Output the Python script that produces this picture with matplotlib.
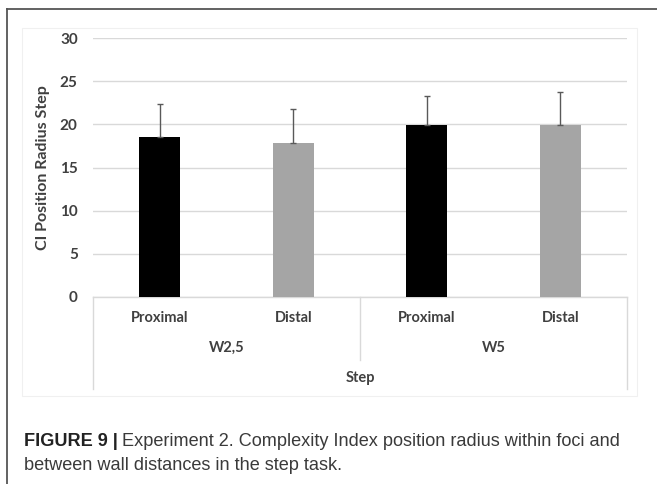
import numpy as np
import matplotlib
matplotlib.use("Agg")
import matplotlib.pyplot as plt
from matplotlib.lines import Line2D
from matplotlib.patches import Rectangle

# data
conditions = ["Proximal", "Distal", "Proximal", "Distal"]
walls = ["W2,5", "W5"]
task = "Step"
means = [18.5, 17.8, 19.9, 19.9]
errors = [3.85, 3.95, 3.4, 3.85]
bar_colors = ["#000000", "#a5a5a5", "#000000", "#a5a5a5"]
yticks = [0, 5, 10, 15, 20, 25, 30]

W, H = 657, 484
fig = plt.figure(figsize=(W / 100, H / 100), dpi=100)
fig.patch.set_facecolor("white")

label_font = "Lato"
txt_col = "#404040"
grid_col = "#d9d9d9"

def fx(px):
    return px / W

def fy(py):
    return 1 - py / H

# outer frame of the figure panel (top and left only, rest is cut off)
fig.add_artist(Line2D([fx(7), 1.0], [fy(9), fy(9)], color="#555555", lw=1.3))
fig.add_artist(Line2D([fx(7), fx(7)], [fy(9), 0.0], color="#555555", lw=1.3))

# faint chart-area border (Excel style)
fig.add_artist(Rectangle((fx(22), fy(396)), fx(637) - fx(22), fy(28) - fy(396),
                         fill=False, edgecolor="#f0f0f0", lw=0.8))

ax = fig.add_axes([fx(93), fy(297), fx(627) - fx(93), fy(38) - fy(297)])
x = np.arange(len(means))
ax.bar(x, means, width=0.31, color=bar_colors, zorder=3)
ax.errorbar(x, means, yerr=[np.zeros(len(errors)), errors], fmt="none",
            ecolor="#595959", elinewidth=1.0, capsize=2.5, capthick=1.0, zorder=4)

ax.set_xlim(-0.5, len(means) - 0.5)
ax.set_ylim(0, 30)
ax.set_yticks(yticks)
ax.set_yticklabels([str(v) for v in yticks], fontsize=11, color=txt_col,
                   fontfamily=label_font, fontweight="bold")
ax.tick_params(axis="y", length=0, pad=11)
ax.set_xticks([])
for s in ax.spines.values():
    s.set_visible(False)
ax.yaxis.grid(True, color=grid_col, lw=1.0, zorder=0)
ax.set_axisbelow(True)

ax.set_ylabel("CI Position Radius Step", fontsize=11.5, color=txt_col,
              fontfamily=label_font, fontweight="bold", labelpad=7)

# category table below the axis
tr = ax.get_xaxis_transform()
ax_h = 297 - 38

def ay(py):
    return (297 - py) / ax_h

line_kw = dict(color=grid_col, lw=1.0, transform=tr, clip_on=False)
ax.plot([-0.5, 3.5], [0, 0], **line_kw)
ax.plot([-0.5, -0.5], [0, ay(389)], **line_kw)
ax.plot([3.5, 3.5], [0, ay(389)], **line_kw)
ax.plot([1.5, 1.5], [0, ay(360)], **line_kw)

for xi, name in zip(x, conditions):
    ax.text(xi, ay(318), name, transform=tr, ha="center", va="center",
            fontsize=10.5, color=txt_col, fontfamily=label_font, fontweight="bold")
for gi, name in enumerate(walls):
    ax.text(gi * 2 + 0.5, ay(348), name, transform=tr, ha="center", va="center",
            fontsize=10.5, color=txt_col, fontfamily=label_font, fontweight="bold")
ax.text(1.5, ay(378), task, transform=tr, ha="center", va="center",
        fontsize=10.5, color=txt_col, fontfamily=label_font, fontweight="bold")

# caption
cap_font = "Liberation Sans"
cap_size = 13.1
renderer = fig.canvas.get_renderer()
t1 = fig.text(fx(24), fy(446), "FIGURE 9 |", fontsize=cap_size, fontweight="bold",
              fontfamily=cap_font, color="#222222", va="baseline", ha="left")
bb = t1.get_window_extent(renderer=renderer)
fig.text(bb.x1 / W + fx(4), fy(446),
         "Experiment 2. Complexity Index position radius within foci and",
         fontsize=cap_size, fontfamily=cap_font, color="#3a3a3a", va="baseline", ha="left")
fig.text(fx(24), fy(470), "between wall distances in the step task.",
         fontsize=cap_size, fontfamily=cap_font, color="#3a3a3a", va="baseline", ha="left")

fig.savefig("out.png", dpi=100, facecolor="white")
